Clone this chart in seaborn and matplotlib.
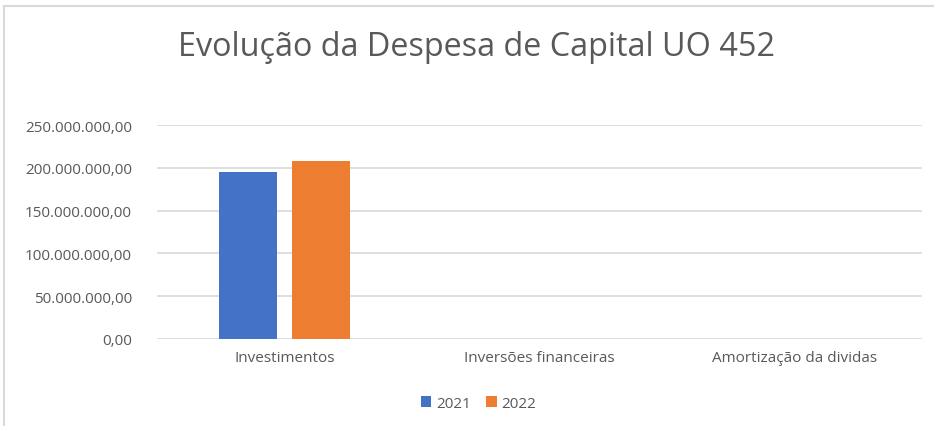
import pandas as pd
import matplotlib.pyplot as plt
import seaborn as sns
from matplotlib.ticker import FuncFormatter

categorias = ["Investimentos", "Inversões financeiras", "Amortização da dividas"]
valores_2021 = [195000000, 0, 0]
valores_2022 = [208000000, 0, 0]
anos = ["2021", "2022"]
cores = ["#4472C4", "#ED7D31"]

data = pd.DataFrame({
    "categoria": categorias * 2,
    "ano": [anos[0]] * 3 + [anos[1]] * 3,
    "valor": valores_2021 + valores_2022,
})

sns.set_style("white")
plt.rcParams['font.family'] = ['Open Sans', 'DejaVu Sans']

fig = plt.figure(figsize=(9.34, 4.27), dpi=100)
ax = fig.add_axes([157 / 934, 1 - 340 / 427, 765 / 934, 214 / 427])

sns.barplot(
    data=data, x="categoria", y="valor", hue="ano",
    palette=cores, width=0.57, gap=0.2, saturation=1, linewidth=0,
    ax=ax, legend=True
)

ax.set_ylim(0, 250000000)
ax.set_yticks(range(0, 250000001, 50000000))
ax.yaxis.set_major_formatter(FuncFormatter(
    lambda v, p: f"{v:,.2f}".replace(",", "X").replace(".", ",").replace("X", ".")
))
ax.grid(axis="y", color="#D9D9D9", linewidth=1.2)
ax.set_axisbelow(True)
for s in ax.spines.values():
    s.set_visible(False)
ax.tick_params(axis="both", length=0, labelsize=11, labelcolor="#595959")
ax.tick_params(axis="y", pad=18)
ax.tick_params(axis="x", pad=8)
ax.set_xlabel("")
ax.set_ylabel("")

ax.legend(loc="upper center", bbox_to_anchor=(0.42, -0.2), ncol=2, frameon=False,
          fontsize=11, labelcolor="#595959", handlelength=0.7, handleheight=0.7,
          handletextpad=0.3, columnspacing=1.0)

fig.text(477 / 934, 1 - 47 / 427, "Evolução da Despesa de Capital UO 452",
         ha="center", va="center", fontsize=23.3, color="#595959")

# chart border
fig.add_artist(plt.Line2D([4 / 934, 1], [1 - 7 / 427] * 2, color="#D9D9D9", lw=1.5))
fig.add_artist(plt.Line2D([4 / 934] * 2, [0, 1 - 7 / 427], color="#D9D9D9", lw=1.5))

plt.savefig("out.png", dpi=100)
